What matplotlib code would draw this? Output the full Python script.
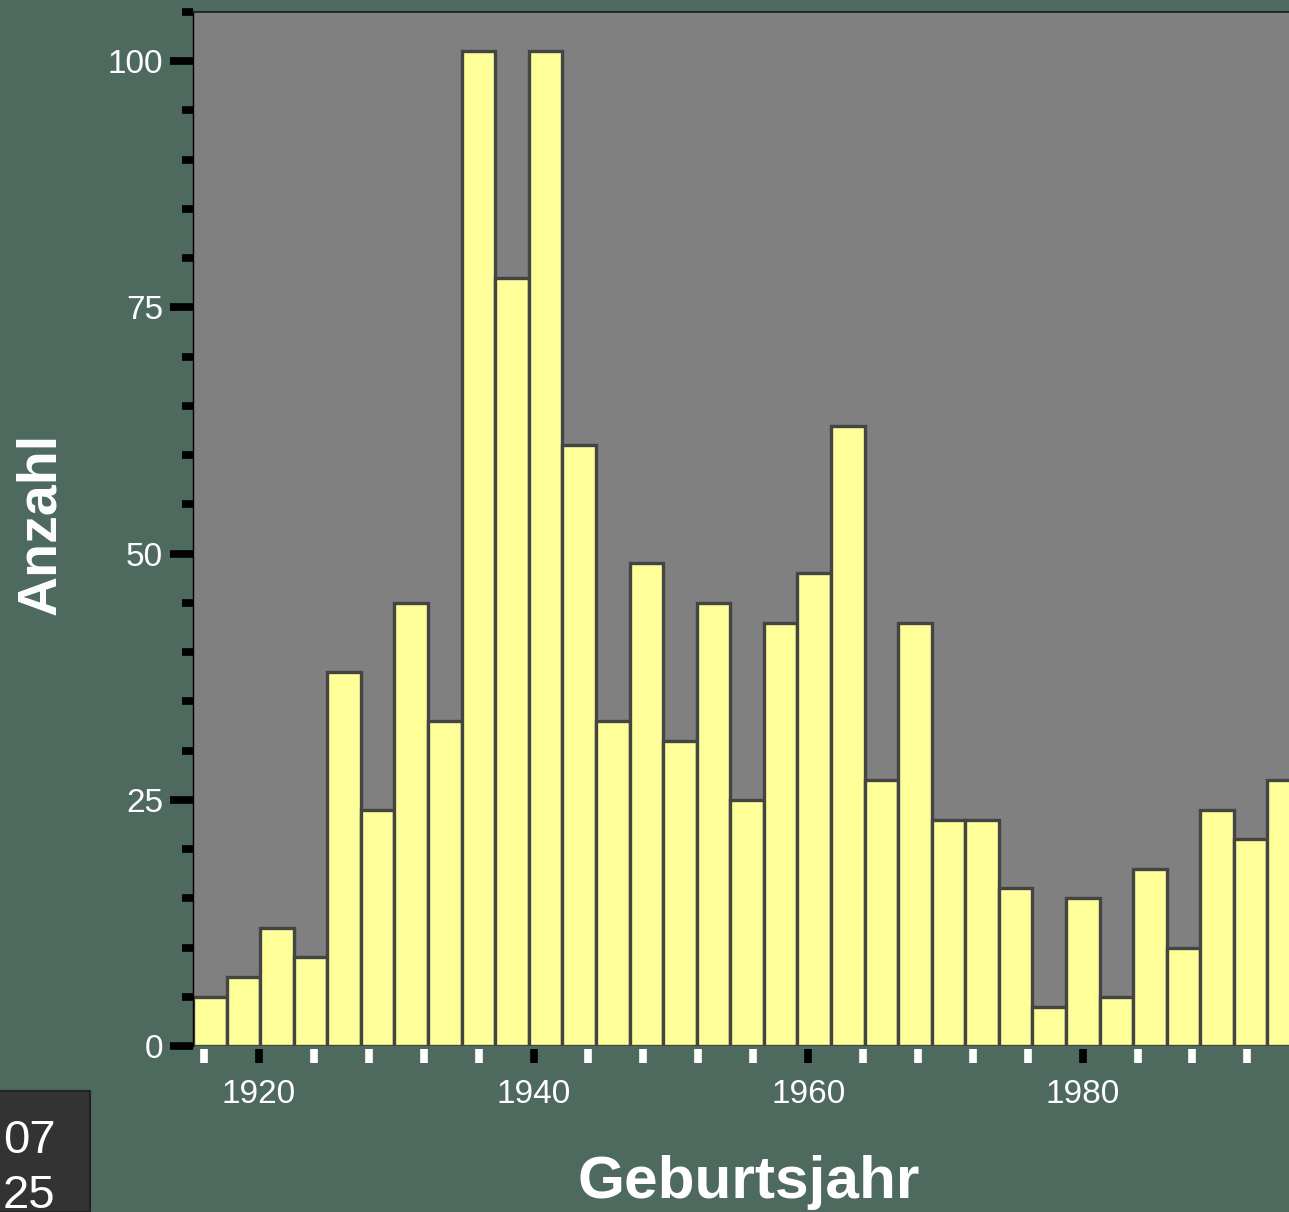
import numpy as np
import matplotlib
matplotlib.use("Agg")
import matplotlib.pyplot as plt
from matplotlib.ticker import MultipleLocator
from matplotlib.patches import Rectangle

# histogram of birth years, counts per bin
bin_start = 1915.19
bin_width = 2.446
counts = [5, 7, 12, 9, 38, 24, 45, 33, 101, 78, 101, 61, 33, 49, 31, 45,
          25, 43, 48, 63, 27, 43, 23, 23, 16, 4, 15, 5, 18, 10, 24, 21, 27]
xlabel = "Geburtsjahr"
ylabel = "Anzahl"
corner_lines = ["07", "25"]

W, H = 1289, 1212
bg = "#4e695d"

plt.rcParams['font.family'] = ['Liberation Sans', 'DejaVu Sans']

fig = plt.figure(figsize=(W / 100, H / 100), dpi=100, facecolor=bg)
ax = fig.add_axes([193 / W, 1 - 1046 / H, 1 - 193 / W, (1046 - 12) / H])
ax.set_facecolor("#808080")

left_edges = bin_start + bin_width * np.arange(len(counts))
ax.bar(left_edges, counts, width=bin_width, align='edge',
       color="#ffff99", edgecolor="#444444", linewidth=2.4, zorder=2)

ax.set_xlim(1915.19, 1995.03)
ax.set_ylim(0, 105)

ax.xaxis.set_major_locator(MultipleLocator(20))
ax.xaxis.set_minor_locator(MultipleLocator(4))
ax.yaxis.set_major_locator(MultipleLocator(25))
ax.yaxis.set_minor_locator(MultipleLocator(5))

ax.tick_params(axis='y', which='major', length=16.5, width=5.5, color='black',
               labelcolor='white', labelsize=24, pad=5)
ax.tick_params(axis='y', which='minor', length=8, width=5.5, color='black')
ax.tick_params(axis='x', which='major', length=10, width=5.5, color='black',
               labelcolor='white', labelsize=24, pad=11)
ax.tick_params(axis='x', which='minor', length=10, width=5.5, color='white')

ax.spines['right'].set_visible(False)
ax.spines['bottom'].set_position(('outward', 2.5))
ax.spines['bottom'].set_visible(False)
ax.spines['left'].set_linewidth(1)
ax.spines['top'].set_linewidth(1.2)
ax.spines['top'].set_color('#1a1a1a')

fig.text(41 / W, 1 - 524 / H, ylabel, rotation=90, color='white',
         fontsize=40, fontweight='bold', ha='center', va='center')
fig.text(749 / W, 1 - 1198 / H, xlabel, color='white',
         fontsize=43.5, fontweight='bold', ha='center', va='baseline')

# dark box in the lower left corner
fig.patches.append(Rectangle((-0.01, 0), 0.01 + 90 / W, (1212 - 1091) / H,
                             transform=fig.transFigure, facecolor='#333333',
                             edgecolor='#222222', linewidth=1.5))
fig.text(3 / W, 1 - 1153 / H, corner_lines[0], color='white', fontsize=34,
         va='baseline', ha='left')
fig.text(3 / W, 1 - 1208 / H, corner_lines[1], color='white', fontsize=34,
         va='baseline', ha='left')

fig.savefig("out.png", dpi=100, facecolor=bg)
